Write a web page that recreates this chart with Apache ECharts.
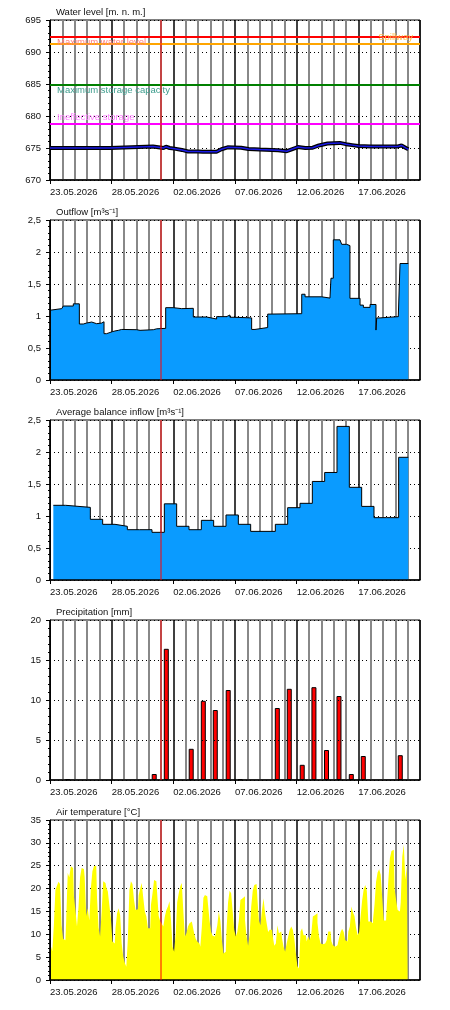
<!DOCTYPE html>
<html><head><meta charset="utf-8">
<script src="https://cdn.jsdelivr.net/npm/echarts@6/dist/echarts.min.js"></script>
<style>html,body{margin:0;padding:0;background:#fff}#c{width:450px;height:1010px}</style>
</head><body><div id="c"></div>
<script>
// ---------- DATA ----------
const startDateUTC = Date.UTC(2026, 4, 23); // 23.05.2026 = day 0
const nowDay = 9;          // red "now" line (01.06.2026)
const dayMax = 30;

const panelTitles = ['Water level [m. n. m.]', 'Outflow [m³s⁻¹]', 'Average balance inflow [m³s⁻¹]', 'Precipitation [mm]', 'Air temperature [°C]'];

// water level (day offset, m a.s.l.)
const waterTime  = [0, 4.85, 5.0, 8.35, 8.5, 9.2, 9.4, 9.7, 10.1, 10.7, 11.2, 12.0, 12.4, 13.5, 13.9, 14.4, 15.5, 16.1, 17.0, 18.5, 19.2, 19.6, 20.1, 20.7, 21.3, 21.8, 22.5, 23.5, 24.0, 24.5, 25.0, 26.0, 28.2, 28.5, 28.9, 29.05];
const waterValue = [675.0, 675.0, 675.25, 675.25, 675.0, 675.0, 675.2, 675.0, 674.9, 674.7, 674.45, 674.45, 674.4, 674.4, 674.8, 675.1, 675.05, 674.85, 674.75, 674.65, 674.5, 674.8, 675.15, 675.0, 675.05, 675.4, 675.7, 675.8, 675.6, 675.45, 675.3, 675.25, 675.25, 675.4, 674.95, 674.8];

// reference levels
const levelValues = [692.4, 691.3, 684.9, 678.8];
const levelNames  = ['Maximum water level', 'Spillway', 'Maximum storage capacity', 'Ineffective storage'];

// outflow (day offset, m3/s)
const outflowTime  = [0, 0.14, 0.95, 1.08, 1.89, 2.38, 2.70, 2.97, 3.38, 3.78, 4.19, 4.38, 4.59, 5.05, 5.27, 5.54, 5.81, 7.03, 7.3, 8.38, 8.65, 9.38, 10.0, 10.68, 11.62, 12.7, 13.51, 14.32, 14.59, 15.0, 16.35, 16.62, 17.65, 17.84, 20.41, 20.68, 22.03, 22.7, 22.78, 22.97, 23.51, 23.65, 24.05, 24.32, 25.14, 25.41, 25.95, 26.43, 26.49, 26.76, 28.24, 28.38, 29.05];
const outflowValue = [1.09, 1.115, 1.13, 1.156, 1.19, 0.875, 0.89, 0.906, 0.88, 0.89, 0.91, 0.724, 0.755, 0.766, 0.776, 0.79, 0.786, 0.776, 0.786, 0.80, 0.807, 1.13, 1.115, 1.12, 0.984, 0.953, 0.99, 1.016, 0.98, 0.97, 0.79, 0.82, 1.03, 1.036, 1.34, 1.30, 1.28, 1.31, 1.59, 2.19, 2.16, 2.12, 2.10, 1.276, 1.17, 1.135, 1.18, 0.78, 0.97, 0.99, 1.016, 1.82, 1.81];

// average balance inflow, one value per daily balance period
const inflowPeriodStart = [0.27, 1.27, 2.27, 3.27, 4.27, 5.27, 6.27, 7.27, 8.27, 9.27, 10.27, 11.27, 12.27, 13.27, 14.27, 15.27, 16.27, 17.27, 18.27, 19.27, 20.27, 21.27, 22.27, 23.27, 24.27, 25.27, 26.27, 27.27, 28.27, 29.05];
const inflowValue = [1.167, 1.151, 1.135, 0.948, 0.87, 0.839, 0.786, 0.786, 0.745, 1.19, 0.839, 0.786, 0.932, 0.839, 1.016, 0.87, 0.76, 0.76, 0.87, 1.13, 1.198, 1.54, 1.68, 2.40, 1.448, 1.15, 0.974, 0.974, 1.917, 1.917];

// daily precipitation (mm), bar position within the day
const precipDayPos = [1.43, 8.45, 9.43, 11.45, 12.43, 13.4, 14.45, 15.42, 18.43, 19.4, 20.45, 21.4, 22.42, 23.43, 24.43, 25.4, 28.4];
const precipValue  = [0.1, 0.75, 16.4, 3.9, 9.9, 8.75, 11.25, 0.1, 9.0, 11.4, 1.9, 11.6, 3.75, 10.5, 0.75, 3.0, 3.1];

// air temperature, 3-hourly samples from day 0
const tempStepDays = 0.125;
const tempValue = [
 8.0, 7.5, 6.3, 12.0, 19.7, 20.6, 21.5, 21.0,
 12.0, 9.0, 8.7, 13.0, 23.4, 22.5, 24.9, 24.5,
 18.3, 15.3, 11.7, 16.0, 22.5, 24.5, 24.3, 22.5,
 14.0, 15.7, 13.0, 20.1, 23.8, 24.9, 25.0, 18.0,
 11.5, 9.5, 15.0, 21.6, 21.2, 20.3, 19.4, 16.4,
 13.5, 8.4, 8.0, 11.3, 14.6, 15.7, 14.2, 8.0,
 5.1, 3.8, 2.9, 9.0, 19.7, 21.6, 21.0, 17.5,
 15.3, 15.5, 18.5, 20.0, 21.2, 18.0, 15.0, 13.9,
 11.3, 11.3, 16.5, 19.0, 21.9, 21.6, 19.0, 14.0,
 12.8, 12.3, 11.7, 13.9, 15.3, 16.1, 17.2, 13.0,
 7.3, 6.2, 10.0, 17.0, 19.0, 20.5, 21.2, 15.0,
 9.5, 10.2, 11.7, 12.4, 12.8, 12.0, 10.2, 9.0,
 8.4, 8.0, 7.3, 11.7, 18.0, 18.6, 18.3, 16.5,
 13.0, 10.5, 9.7, 9.5, 10.2, 12.0, 15.0, 13.0,
 8.7, 5.8, 6.2, 11.0, 17.0, 19.5, 19.0, 15.0,
 11.0, 9.5, 10.5, 13.0, 17.5, 17.9, 18.3, 13.0,
 9.5, 7.5, 10.0, 16.0, 19.5, 20.8, 21.0, 18.0,
 13.0, 12.0, 15.3, 17.9, 14.6, 12.5, 10.5, 11.0,
 11.0, 9.5, 7.5, 8.0, 12.0, 10.2, 10.6, 9.1,
 7.3, 6.2, 8.0, 9.5, 11.0, 11.7, 11.0, 9.0,
 5.8, 3.0, 2.5, 10.6, 11.3, 9.8, 9.8, 8.4,
 9.5, 8.7, 10.2, 13.9, 14.2, 14.6, 12.5, 9.5,
 8.0, 7.8, 8.0, 8.0, 8.7, 10.6, 10.6, 8.5,
 7.6, 7.3, 7.6, 8.0, 9.2, 10.5, 11.2, 10.5,
 8.7, 8.4, 10.6, 11.7, 16.1, 14.8, 14.0, 11.5,
 9.8, 10.5, 14.0, 17.5, 19.9, 20.8, 19.5, 12.8,
 12.8, 12.4, 13.1, 16.5, 21.5, 23.5, 24.2, 23.0,
 18.0, 13.0, 13.0, 16.5, 22.0, 26.7, 28.2, 28.5,
 20.0, 17.5, 15.3, 15.0, 17.0, 27.0, 29.6, 22.0,
 25.0
];

// y axis ranges
const yMin = [670, 0, 0, 0, 0];
const yMax = [695, 2.5, 2.5, 20, 35];
const yInterval = [5, 0.5, 0.5, 5, 5];

// ---------- STYLE / LAYOUT ----------
const FONT = 'Liberation Sans, Arial, sans-serif';
const FS = 9.5;
const panelTop = [20, 220, 420, 620, 820];
const panelH = 160;
const levelLineColors = ['#ff0000', '#ffa500', '#008000', '#ff00ff'];
const levelLabelColors = ['#ff7f7f', '#ffc04d', '#3c9c8c', '#ff80ff'];
const levelLabelPos = ['insideStartBottom', 'insideEndTop', 'insideStartBottom', 'insideStartTop'];
const blue = '#0a9bff';

function pad(n){ return (n < 10 ? '0' : '') + n; }
function fmtDate(v){
  const d = new Date(startDateUTC + Math.round(v * 86400000));
  return pad(d.getUTCDate()) + '.' + pad(d.getUTCMonth() + 1) + '.' + d.getUTCFullYear();
}
function fmtNum(v){ return String(v).replace('.', ','); }

const grids = [], xAxes = [], yAxes = [], titles = [];
for (let i = 0; i < 5; i++) {
  grids.push({ left: 50, right: 30, top: panelTop[i], height: panelH, containLabel: false, outerBoundsMode: 'none',
    show: true, borderColor: '#000', borderWidth: 1, backgroundColor: 'rgba(0,0,0,0)' });
  titles.push({ text: panelTitles[i], left: 51, top: panelTop[i] - 18,
    textStyle: { fontFamily: FONT, fontSize: FS, fontWeight: 'normal', color: '#111' } });
  xAxes.push({
    gridIndex: i, type: 'value', min: 0, max: dayMax, interval: 5, z: i === 0 ? 0 : 3,
    axisLine: { show: true, lineStyle: { color: '#000', width: 1.5 } },
    axisTick: { show: true, length: 4, lineStyle: { color: '#000' } },
    minorTick: { show: false, splitNumber: 5 },
    axisLabel: { show: true, formatter: fmtDate, align: 'left', margin: 7, showMaxLabel: false,
      color: '#111', fontFamily: FONT, fontSize: FS },
    splitLine: { show: true, lineStyle: { color: '#000', width: 1.5 } },
    minorSplitLine: { show: true, lineStyle: { color: '#888', width: 2 } }
  });
  yAxes.push({
    gridIndex: i, type: 'value', min: yMin[i], max: yMax[i], interval: yInterval[i], z: i === 0 ? 0 : 3,
    axisLine: { show: true, lineStyle: { color: '#000', width: 1 } },
    axisTick: { show: true, length: 4, lineStyle: { color: '#000' } },
    minorTick: { show: true, splitNumber: 5, length: 2, lineStyle: { color: '#000' } },
    axisLabel: { show: true, margin: 9, formatter: (i === 1 || i === 2) ? fmtNum : null,
      color: '#111', fontFamily: FONT, fontSize: FS, padding: [0, 0, 9, 0] },
    splitLine: { show: true, lineStyle: { color: '#000', width: 1, type: [1, 3] } }
  });
}

const waterData = waterTime.map((t, k) => [t, waterValue[k]]);
const levelMarks = levelValues.map((v, k) => ({
  yAxis: v,
  lineStyle: { color: levelLineColors[k], width: 2, type: 'solid' },
  label: { show: true, formatter: levelNames[k], position: levelLabelPos[k], color: levelLabelColors[k],
    fontFamily: FONT, fontSize: FS, distance: [7, 1] }
}));

const series = [
  { type: 'line', xAxisIndex: 0, yAxisIndex: 0, data: waterData, symbol: 'none', z: 4,
    lineStyle: { color: '#000', width: 4 },
    markLine: { symbol: ['none', 'none'], silent: true, animation: false, data: levelMarks } },
  { type: 'line', xAxisIndex: 0, yAxisIndex: 0, data: waterData, symbol: 'none', z: 5,
    lineStyle: { color: '#1a1ae6', width: 1.5 } },
  { type: 'line', xAxisIndex: 1, yAxisIndex: 1, step: 'end', symbol: 'none',
    data: outflowTime.map((t, k) => [t, outflowValue[k]]),
    lineStyle: { color: '#000', width: 1 }, areaStyle: { color: blue, opacity: 1 } },
  { type: 'line', xAxisIndex: 2, yAxisIndex: 2, step: 'end', symbol: 'none',
    data: inflowPeriodStart.map((t, k) => [t, inflowValue[k]]),
    lineStyle: { color: '#000', width: 1 }, areaStyle: { color: blue, opacity: 1 } },
  { type: 'bar', xAxisIndex: 3, yAxisIndex: 3, barWidth: 5,
    data: precipDayPos.map((t, k) => [t, precipValue[k]]),
    itemStyle: { color: '#ff0000', borderColor: '#000', borderWidth: 1 } },
  { type: 'line', xAxisIndex: 4, yAxisIndex: 4, step: 'middle', symbol: 'none',
    data: tempValue.map((v, k) => [k * tempStepDays, v]),
    lineStyle: { width: 0, color: '#ffff00' }, areaStyle: { color: '#ffff00', opacity: 1 } }
];
// red "now" line in every panel
for (let i = 0; i < 5; i++) {
  series.push({ type: 'line', xAxisIndex: i, yAxisIndex: i, symbol: 'none', silent: true, z: 10,
    data: [[nowDay, yMin[i]], [nowDay, yMax[i]]],
    lineStyle: { color: '#ff0000', width: 1 } });
}

const chart = echarts.init(document.getElementById('c'), null, { renderer: 'canvas' });
chart.setOption({
  animation: false, backgroundColor: '#fff',
  title: titles, grid: grids, xAxis: xAxes, yAxis: yAxes, series: series
});
</script></body></html>
